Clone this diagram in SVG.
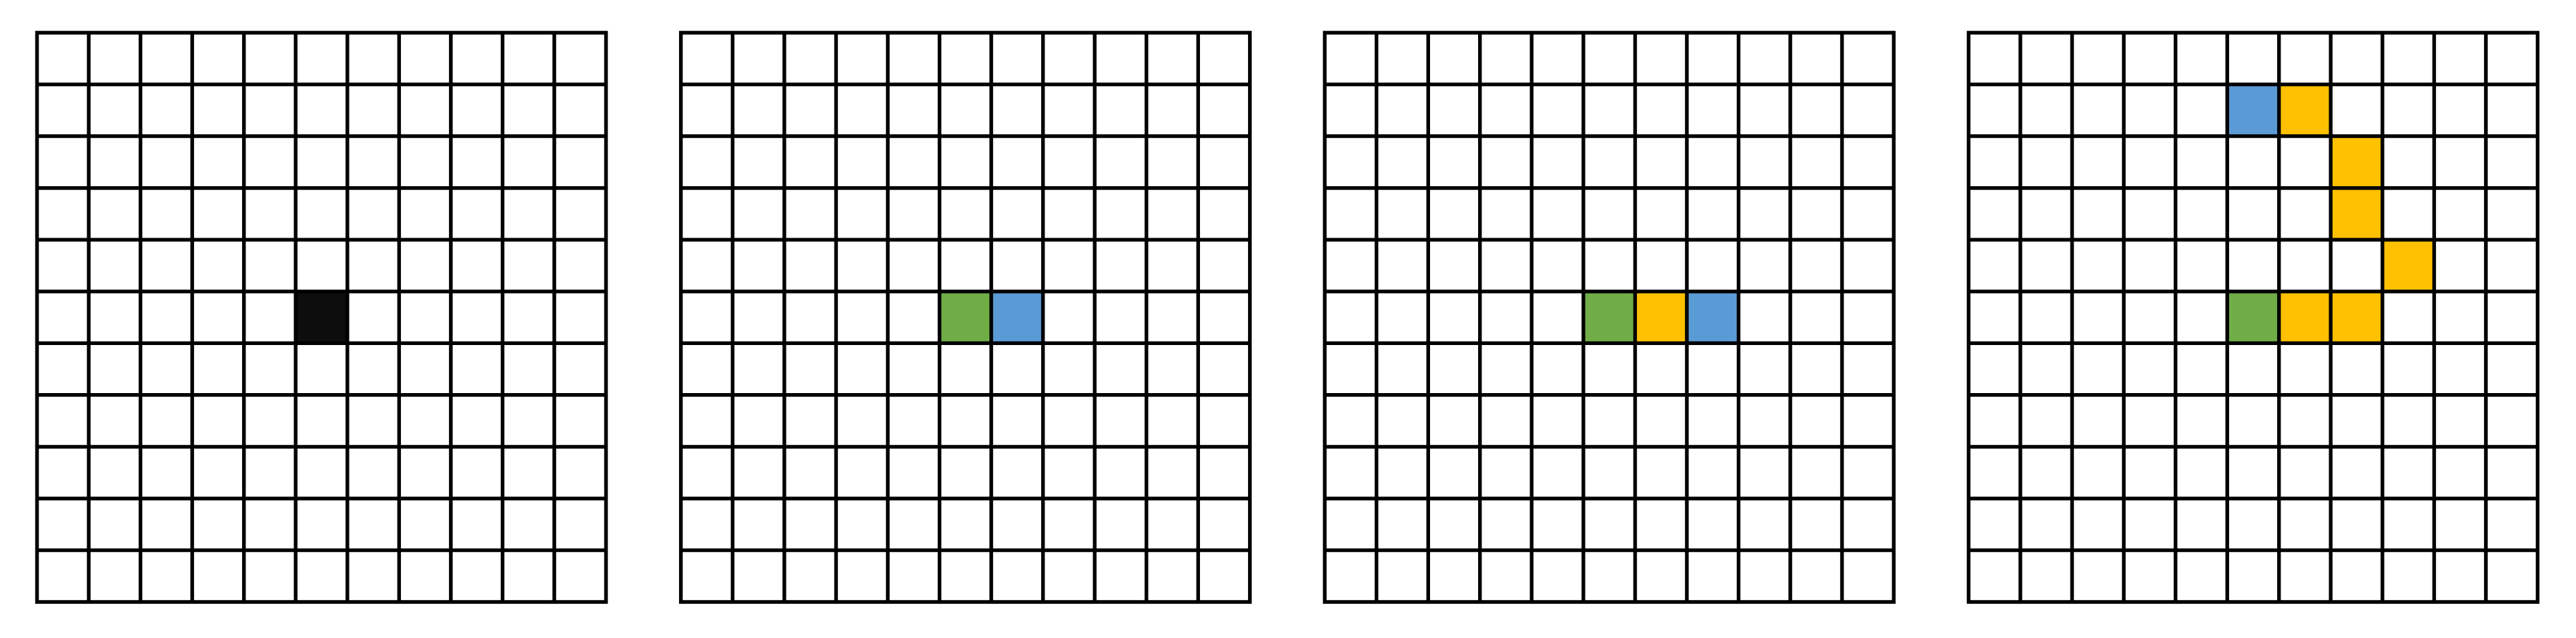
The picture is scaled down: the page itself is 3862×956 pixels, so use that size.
<svg xmlns="http://www.w3.org/2000/svg" xmlns:xlink="http://www.w3.org/1999/xlink" width="3862" height="956" viewBox="0 0 3862 956">
<style>
.bg{fill:#ffffff}
.lines{fill:none;stroke:#000000;stroke-width:5.5;stroke-linecap:square}
.k{fill:#0d0d0d}
.g{fill:#70ad47}
.b{fill:#5b9bd5}
.y{fill:#ffc000}
</style>
<defs>
<path id="gridlines" class="lines" d="M0 0V853.05M77.55 0V853.05M155.1 0V853.05M232.65 0V853.05M310.2 0V853.05M387.75 0V853.05M465.3 0V853.05M542.85 0V853.05M620.4 0V853.05M697.95 0V853.05M775.5 0V853.05M853.05 0V853.05M0 0H853.05M0 77.55H853.05M0 155.1H853.05M0 232.65H853.05M0 310.2H853.05M0 387.75H853.05M0 465.3H853.05M0 542.85H853.05M0 620.4H853.05M0 697.95H853.05M0 775.5H853.05M0 853.05H853.05"/>
</defs>
<rect class="bg" x="0" y="0" width="3862" height="956"/>
<g id="grid1" transform="translate(55.5,49)">
<rect class="k" x="387.75" y="387.75" width="77.55" height="77.55"/>
<use xlink:href="#gridlines" href="#gridlines"/>
</g>
<g id="grid2" transform="translate(1020.8,49)">
<rect class="g" x="387.75" y="387.75" width="77.55" height="77.55"/>
<rect class="b" x="465.3" y="387.75" width="77.55" height="77.55"/>
<use xlink:href="#gridlines" href="#gridlines"/>
</g>
<g id="grid3" transform="translate(1986.1,49)">
<rect class="g" x="387.75" y="387.75" width="77.55" height="77.55"/>
<rect class="y" x="465.3" y="387.75" width="77.55" height="77.55"/>
<rect class="b" x="542.85" y="387.75" width="77.55" height="77.55"/>
<use xlink:href="#gridlines" href="#gridlines"/>
</g>
<g id="grid4" transform="translate(2951.4,49)">
<rect class="b" x="387.75" y="77.55" width="77.55" height="77.55"/>
<rect class="y" x="465.3" y="77.55" width="77.55" height="77.55"/>
<rect class="y" x="542.85" y="155.1" width="77.55" height="77.55"/>
<rect class="y" x="542.85" y="232.65" width="77.55" height="77.55"/>
<rect class="y" x="620.4" y="310.2" width="77.55" height="77.55"/>
<rect class="g" x="387.75" y="387.75" width="77.55" height="77.55"/>
<rect class="y" x="465.3" y="387.75" width="77.55" height="77.55"/>
<rect class="y" x="542.85" y="387.75" width="77.55" height="77.55"/>
<use xlink:href="#gridlines" href="#gridlines"/>
</g>
<g id="connectors"/>
</svg>
